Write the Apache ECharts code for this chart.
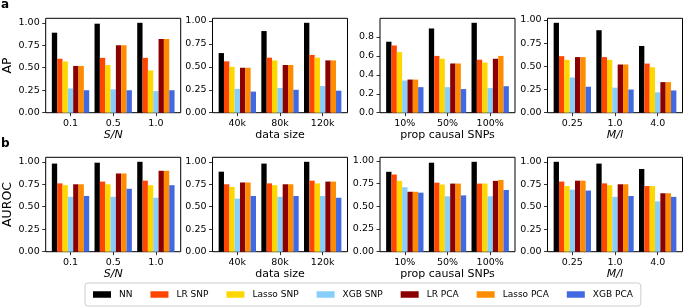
<!DOCTYPE html>
<html>
<head>
<meta charset="utf-8">
<script src="https://cdn.jsdelivr.net/npm/echarts@6/dist/echarts.min.js"></script>
<style>html,body{margin:0;padding:0;background:#fff}#c{width:683px;height:307px}</style>
</head>
<body>
<div id="c"></div>
<script>
const methods = ['NN','LR SNP','Lasso SNP','XGB SNP','LR PCA','Lasso PCA','XGB PCA'];
const colors = ['#000000','#FF4500','#FFD700','#87CEFA','#8B0000','#FF8C00','#4169E1'];

const snCats = ['0.1','0.5','1.0'];
const sizeCats = ['40k','80k','120k'];
const propCats = ['10%','50%','100%'];
const mlCats = ['0.25','1.0','4.0'];

// rows = methods, columns = categories
const apSN = [[0.89,0.99,1.00],[0.60,0.61,0.61],[0.57,0.53,0.47],[0.27,0.26,0.24],[0.52,0.75,0.82],[0.52,0.75,0.82],[0.25,0.25,0.25]];
const apSize = [[0.65,0.89,0.98],[0.56,0.60,0.63],[0.50,0.57,0.60],[0.26,0.27,0.29],[0.49,0.52,0.57],[0.49,0.52,0.57],[0.23,0.25,0.24]];
const apProp = [[0.75,0.89,0.95],[0.71,0.60,0.56],[0.64,0.57,0.53],[0.34,0.27,0.26],[0.35,0.52,0.57],[0.35,0.52,0.60],[0.27,0.25,0.28]];
const apML = [[0.97,0.89,0.72],[0.61,0.60,0.53],[0.57,0.57,0.49],[0.38,0.27,0.22],[0.60,0.52,0.33],[0.60,0.52,0.33],[0.28,0.25,0.24]];
const aurocSN = [[0.98,0.99,1.00],[0.76,0.78,0.79],[0.74,0.75,0.74],[0.61,0.61,0.60],[0.75,0.87,0.90],[0.75,0.87,0.90],[0.62,0.70,0.74]];
const aurocSize = [[0.89,0.98,1.00],[0.75,0.76,0.79],[0.72,0.74,0.76],[0.59,0.61,0.62],[0.77,0.75,0.78],[0.77,0.75,0.78],[0.62,0.62,0.60]];
const aurocProp = [[0.88,0.98,0.99],[0.85,0.76,0.75],[0.78,0.74,0.75],[0.71,0.61,0.61],[0.66,0.75,0.78],[0.66,0.75,0.79],[0.65,0.62,0.68]];
const aurocML = [[1.00,0.98,0.92],[0.78,0.76,0.73],[0.73,0.74,0.73],[0.69,0.61,0.56],[0.79,0.75,0.65],[0.79,0.75,0.65],[0.68,0.62,0.61]];

const apTicks = [0,0.25,0.5,0.75,1.0];
const apPropTicks = [0,0.2,0.4,0.6,0.8];
const aurocTicks = [0,0.25,0.5,0.75,1.0];

const panels = [
  {vals: apSN, cats: snCats, xname: 'S/N', italic: true, yname: 'AP', ticks: apTicks, dec: 2},
  {vals: apSize, cats: sizeCats, xname: 'data size', italic: false, yname: '', ticks: apTicks, dec: 2},
  {vals: apProp, cats: propCats, xname: 'prop causal SNPs', italic: false, yname: '', ticks: apPropTicks, dec: 1},
  {vals: apML, cats: mlCats, xname: 'M/l', italic: true, yname: '', ticks: apTicks, dec: 2},
  {vals: aurocSN, cats: snCats, xname: 'S/N', italic: true, yname: 'AUROC', ticks: aurocTicks, dec: 2},
  {vals: aurocSize, cats: sizeCats, xname: 'data size', italic: false, yname: '', ticks: aurocTicks, dec: 2},
  {vals: aurocProp, cats: propCats, xname: 'prop causal SNPs', italic: false, yname: '', ticks: aurocTicks, dec: 2},
  {vals: aurocML, cats: mlCats, xname: 'M/l', italic: true, yname: '', ticks: aurocTicks, dec: 2}
];

const FONT = 'DejaVu Sans';
const lefts = [45.7, 212.5, 380, 547.5];
const tops = [18.3, 157.3];
const GW = 135, GH = 94.4;
const bw = 0.125;
const half = 3.5 * bw;
const xmin = -half - 0.05 * (2 + 2 * half);
const xmax = 2 + half + 0.05 * (2 + 2 * half);
const barPx = GW / (xmax - xmin) * bw;

const grids = [], xAxes = [], yAxes = [], series = [];
panels.forEach((p, i) => {
  const col = i % 4, row = Math.floor(i / 4);
  grids.push({left: lefts[col], top: tops[row], width: GW, height: GH, show: true,
    borderColor: '#000', borderWidth: 1, backgroundColor: 'transparent', containLabel: false});
  const cats = p.cats;
  xAxes.push({type: 'value', gridIndex: i, min: xmin, max: xmax, position: 'bottom',
    axisLine: {show: false, onZero: false}, splitLine: {show: false},
    axisTick: {show: true, length: 3.5, lineStyle: {color: '#000', width: 0.8}, customValues: [0,1,2]},
    axisLabel: {customValues: [0,1,2], formatter: v => cats[Math.round(v)], color: '#000', fontSize: 9.5, fontFamily: FONT, margin: 6},
    name: p.xname, nameLocation: 'middle', nameGap: 16,
    nameTextStyle: {color: '#000', fontSize: 11, fontFamily: FONT, fontStyle: p.italic ? 'italic' : 'normal'}
  });
  let mx = 0;
  p.vals.forEach(r => r.forEach(v => { if (v > mx) mx = v; }));
  const dec = p.dec;
  yAxes.push({type: 'value', gridIndex: i, min: 0, max: mx * 1.05, position: 'left',
    axisLine: {show: false, onZero: false}, splitLine: {show: false},
    axisTick: {show: true, length: 3.5, lineStyle: {color: '#000', width: 0.8}, customValues: p.ticks},
    axisLabel: {customValues: p.ticks, formatter: v => v.toFixed(dec), color: '#000', fontSize: 9.5, fontFamily: FONT, margin: 6},
    name: p.yname, nameLocation: 'middle', nameGap: 30,
    nameTextStyle: {color: '#000', fontSize: 12.5, fontFamily: FONT}
  });
  methods.forEach((m, k) => {
    series.push({type: 'bar', name: m, xAxisIndex: i, yAxisIndex: i,
      barWidth: barPx, barGap: '-100%',
      itemStyle: {color: colors[k]},
      data: p.vals[k].map((v, g) => [g + (k - 3) * bw, v]),
      animation: false, silent: true});
  });
});

const chart = echarts.init(document.getElementById('c'), null, {renderer: 'canvas'});
chart.setOption({
  animation: false,
  grid: grids, xAxis: xAxes, yAxis: yAxes, series: series,
  legend: {data: methods, left: 85, top: 283, orient: 'horizontal',
    icon: 'rect', itemWidth: 18, itemHeight: 6.5, itemGap: 18,
    padding: [6, 8], borderColor: '#cccccc', borderWidth: 1, borderRadius: 3,
    backgroundColor: '#fff',
    textStyle: {color: '#000', fontSize: 9, fontFamily: FONT, lineHeight: 11, padding: [0, 0, 0, 3]},
    selectedMode: false},
  graphic: [
    {type: 'text', left: 1, top: -1, style: {text: 'a', fontSize: 12, fontWeight: 'bold', fontFamily: FONT, fill: '#000'}},
    {type: 'text', left: 1, top: 138, style: {text: 'b', fontSize: 12, fontWeight: 'bold', fontFamily: FONT, fill: '#000'}}
  ]
});
</script>
</body>
</html>
